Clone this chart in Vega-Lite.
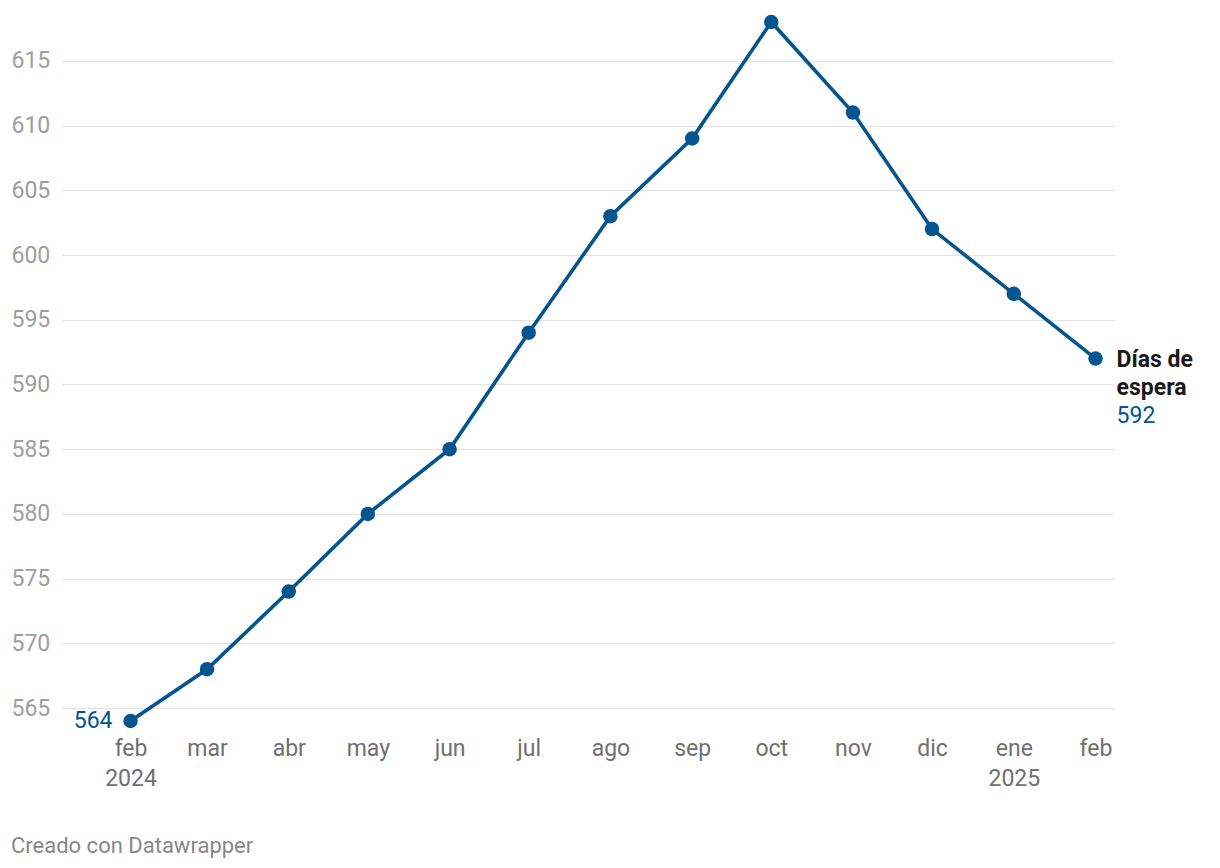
{
  "$schema": "https://vega.github.io/schema/vega-lite/v6.json",
  "width": 1052,
  "height": 699,
  "autosize": {"type": "none"},
  "padding": {"left": 62, "top": 22, "right": 106, "bottom": 147},
  "background": "white",
  "config": {
    "view": {"stroke": null},
    "font": "Roboto"
  },
  "title": {
    "text": "Creado con Datawrapper",
    "orient": "bottom",
    "anchor": "start",
    "frame": "bounds",
    "font": "Roboto",
    "fontSize": 22,
    "fontWeight": "normal",
    "color": "#888888",
    "offset": 46
  },
  "data": {
    "values": [
      {"date": "2024-02-01", "dias": 564},
      {"date": "2024-03-01", "dias": 568},
      {"date": "2024-04-01", "dias": 574},
      {"date": "2024-05-01", "dias": 580},
      {"date": "2024-06-01", "dias": 585},
      {"date": "2024-07-01", "dias": 594},
      {"date": "2024-08-01", "dias": 603},
      {"date": "2024-09-01", "dias": 609},
      {"date": "2024-10-01", "dias": 618},
      {"date": "2024-11-01", "dias": 611},
      {"date": "2024-12-01", "dias": 602},
      {"date": "2025-01-01", "dias": 597},
      {"date": "2025-02-01", "dias": 592}
    ]
  },
  "encoding": {
    "x": {
      "field": "date",
      "type": "temporal",
      "scale": {
        "type": "utc",
        "domain": [
          {"year": 2024, "month": 1, "date": 6, "utc": true},
          {"year": 2025, "month": 2, "date": 8, "utc": true}
        ]
      },
      "axis": {
        "title": null,
        "grid": false,
        "domain": false,
        "ticks": false,
        "tickSize": 0,
        "values": [
          {"year": 2024, "month": 2, "date": 1, "utc": true},
          {"year": 2024, "month": 3, "date": 1, "utc": true},
          {"year": 2024, "month": 4, "date": 1, "utc": true},
          {"year": 2024, "month": 5, "date": 1, "utc": true},
          {"year": 2024, "month": 6, "date": 1, "utc": true},
          {"year": 2024, "month": 7, "date": 1, "utc": true},
          {"year": 2024, "month": 8, "date": 1, "utc": true},
          {"year": 2024, "month": 9, "date": 1, "utc": true},
          {"year": 2024, "month": 10, "date": 1, "utc": true},
          {"year": 2024, "month": 11, "date": 1, "utc": true},
          {"year": 2024, "month": 12, "date": 1, "utc": true},
          {"year": 2025, "month": 1, "date": 1, "utc": true},
          {"year": 2025, "month": 2, "date": 1, "utc": true}
        ],
        "labelExpr": "(utcyear(datum.value) == 2024 && utcmonth(datum.value) == 1) || utcmonth(datum.value) == 0 ? [['ene','feb','mar','abr','may','jun','jul','ago','sep','oct','nov','dic'][utcmonth(datum.value)], '' + utcyear(datum.value)] : ['ene','feb','mar','abr','may','jun','jul','ago','sep','oct','nov','dic'][utcmonth(datum.value)]",
        "labelFont": "Roboto",
        "labelFontSize": 23,
        "labelColor": "#707070",
        "labelBaseline": "top",
        "labelPadding": 16,
        "labelLineHeight": 30,
        "labelOverlap": false,
        "labelFlush": false
      }
    },
    "y": {
      "field": "dias",
      "type": "quantitative",
      "scale": {"domain": [564, 618], "nice": false, "zero": false},
      "axis": {
        "title": null,
        "domain": false,
        "ticks": false,
        "tickSize": 0,
        "values": [565, 570, 575, 580, 585, 590, 595, 600, 605, 610, 615],
        "grid": true,
        "gridColor": "#e2e2e2",
        "gridWidth": 1.2,
        "labelFont": "Roboto",
        "labelFontSize": 23,
        "labelColor": "#9e9e9e",
        "labelAlign": "left",
        "labelBaseline": "middle",
        "labelPadding": 51
      }
    }
  },
  "layer": [
    {
      "mark": {"type": "line", "color": "#03548f", "strokeWidth": 3.6}
    },
    {
      "mark": {"type": "point", "filled": true, "opacity": 1, "size": 210, "color": "#03548f"}
    },
    {
      "transform": [{"filter": "utcyear(datum.date) == 2024 && utcmonth(datum.date) == 1"}],
      "mark": {"type": "text", "align": "right", "baseline": "alphabetic", "dx": -18, "dy": 7, "fontSize": 23, "font": "Roboto", "color": "#03548f"},
      "encoding": {"text": {"field": "dias", "type": "quantitative"}}
    },
    {
      "transform": [{"filter": "utcyear(datum.date) == 2025 && utcmonth(datum.date) == 1"}],
      "mark": {"type": "text", "align": "left", "baseline": "alphabetic", "dx": 21, "dy": 8, "fontSize": 23, "font": "Roboto", "fontWeight": "bold", "color": "#1a1a1a", "lineHeight": 28, "text": ["Días de", "espera"]}
    },
    {
      "transform": [{"filter": "utcyear(datum.date) == 2025 && utcmonth(datum.date) == 1"}],
      "mark": {"type": "text", "align": "left", "baseline": "alphabetic", "dx": 21, "dy": 64, "fontSize": 23, "font": "Roboto", "color": "#03548f"},
      "encoding": {"text": {"field": "dias", "type": "quantitative"}}
    }
  ]
}
